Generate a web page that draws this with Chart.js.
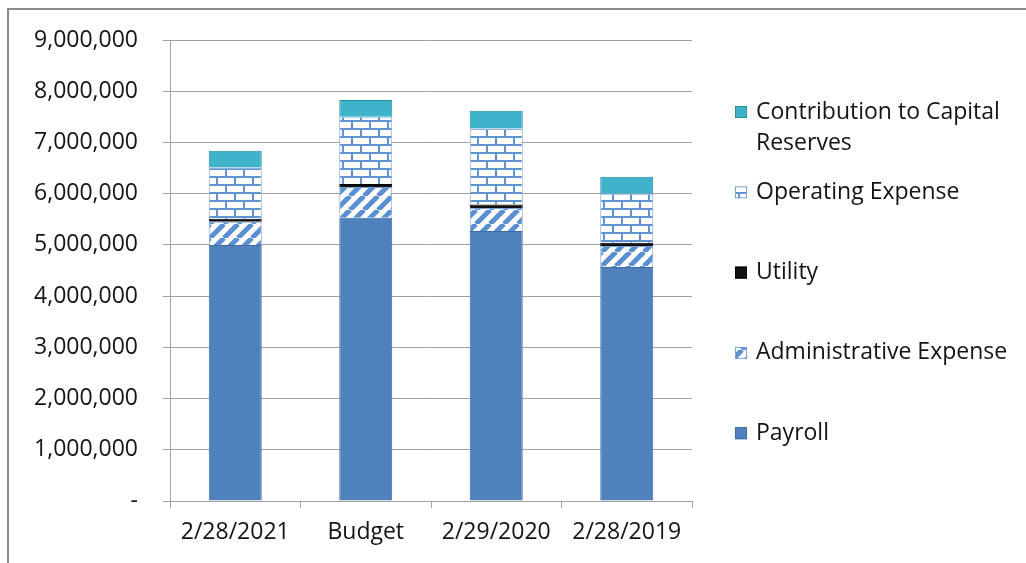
<!DOCTYPE html>
<html>
<head>
<meta charset="utf-8">
<script src="https://cdn.jsdelivr.net/npm/chart.js@4.4.1/dist/chart.umd.min.js"></script>
<style>
  html, body { margin: 0; padding: 0; background: #fff; overflow: hidden; }
  #frame { position: absolute; left: 7px; top: 8px; width: 1100px; height: 700px; border: 2px solid #8c8c8c; }
  #chart { position: absolute; left: 0; top: 0; }
</style>
</head>
<body>
<div id="frame"></div>
<canvas id="chart" width="1026" height="563"></canvas>
<script>
// categories and series
const categories = ['2/28/2021', 'Budget', '2/29/2020', '2/28/2019'];
const payroll = [5000000, 5530000, 5270000, 4570000];
const adminExpense = [450000, 600000, 450000, 410000];
const utility = [60000, 60000, 70000, 60000];
const operatingExpense = [1000000, 1310000, 1480000, 960000];
const capitalReserves = [330000, 330000, 350000, 330000];
const yTicks = [0, 1000000, 2000000, 3000000, 4000000, 5000000, 6000000, 7000000, 8000000, 9000000];

const FONT = '"Open Sans", sans-serif';
const TEXT = '#141414';

// diagonal stripes for admin expense
function stripePattern() {
  const c = document.createElement('canvas');
  c.width = 14; c.height = 14;
  const g = c.getContext('2d');
  g.fillStyle = '#ffffff';
  g.fillRect(0, 0, 14, 14);
  g.strokeStyle = '#5a8fd2';
  g.lineWidth = 5;
  g.beginPath();
  for (let k = -14; k <= 28; k += 14) {
    g.moveTo(k, 14);
    g.lineTo(k + 14, 0);
  }
  g.stroke();
  return g.createPattern(c, 'repeat');
}

// brick pattern for operating expense
function brickPattern() {
  const c = document.createElement('canvas');
  c.width = 18; c.height = 16;
  const g = c.getContext('2d');
  g.fillStyle = '#ffffff';
  g.fillRect(0, 0, 18, 16);
  g.fillStyle = '#5f93d4';
  g.fillRect(0, 0, 18, 2);
  g.fillRect(0, 8, 18, 2);
  g.fillRect(0, 0, 2, 8);
  g.fillRect(9, 8, 2, 8);
  return g.createPattern(c, 'repeat');
}

const datasets = [
  { label: 'Payroll', data: payroll, backgroundColor: '#4f81bd', borderColor: '#3d6ba3' },
  { label: 'Administrative Expense', data: adminExpense, backgroundColor: stripePattern(), borderColor: '#7aa3d8' },
  { label: 'Utility', data: utility, backgroundColor: '#111111', borderColor: '#000000' },
  { label: 'Operating Expense', data: operatingExpense, backgroundColor: brickPattern(), borderColor: '#7aa3d8' },
  { label: 'Contribution to Capital Reserves', data: capitalReserves, backgroundColor: '#3fb3ca', borderColor: '#2a8ea5' }
].map(d => Object.assign(d, { borderWidth: 1, barPercentage: 0.406, categoryPercentage: 1 }));

// legend drawn on the right, top to bottom in reverse stacking order
const sideLegend = {
  id: 'sideLegend',
  afterDraw(chart) {
    const ctx = chart.ctx;
    ctx.save();
    ctx.font = '23px ' + FONT;
    ctx.textBaseline = 'middle';
    ctx.textAlign = 'left';
    const items = chart.data.datasets.slice().reverse();
    items.forEach((ds, i) => {
      const y = 112 + i * 80.3;
      ctx.fillStyle = ds.backgroundColor;
      ctx.fillRect(735, y - 6, 12, 12);
      ctx.strokeStyle = ds.borderColor;
      ctx.lineWidth = 1;
      ctx.strokeRect(735.5, y - 5.5, 11, 11);
      // simple word wrap
      const words = ds.label.split(' ');
      let lines = [], line = '';
      words.forEach(w => {
        const test = line ? line + ' ' + w : w;
        if (ctx.measureText(test).width > 262 && line) { lines.push(line); line = w; }
        else line = test;
      });
      lines.push(line);
      ctx.fillStyle = TEXT;
      lines.forEach((l, j) => ctx.fillText(l, 756, y + j * 31));
    });
    ctx.restore();
  }
};

new Chart(document.getElementById('chart'), {
  type: 'bar',
  data: { labels: categories, datasets: datasets },
  options: {
    responsive: false,
    animation: false,
    devicePixelRatio: 1,
    layout: { padding: { top: 40, right: 334, bottom: 0, left: 0 } },
    plugins: { legend: { display: false }, tooltip: { enabled: false } },
    scales: {
      x: {
        stacked: true,
        afterFit(s) { s.height = 62; },
        grid: { drawOnChartArea: false, tickLength: 7, color: '#a0a0a0', offset: true },
        border: { color: '#a0a0a0' },
        ticks: { color: TEXT, font: { family: FONT, size: 23 }, padding: 11 }
      },
      y: {
        stacked: true,
        min: 0,
        max: 9000000,
        afterFit(s) { s.width = 170; },
        afterBuildTicks(s) { s.ticks = yTicks.map(v => ({ value: v })); },
        grid: { tickLength: 7, color: '#a0a0a0' },
        border: { color: '#a0a0a0' },
        ticks: {
          color: TEXT,
          font: { family: FONT, size: 23 },
          padding: 25,
          callback: v => v === 0 ? '-' : v.toLocaleString('en-US')
        }
      }
    }
  },
  plugins: [sideLegend]
});
</script>
</body>
</html>
